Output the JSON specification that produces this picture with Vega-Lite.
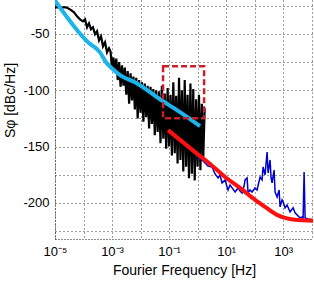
{
  "$schema": "https://vega.github.io/schema/vega-lite/v6.json",
  "width": 258,
  "height": 239,
  "autosize": {"type": "none"},
  "padding": {"left": 55, "top": 0, "right": 1, "bottom": 43},
  "background": "white",
  "config": {
    "view": {"stroke": null},
    "font": "Liberation Sans",
    "axis": {
      "labelFont": "Liberation Sans",
      "titleFont": "Liberation Sans",
      "labelColor": "#000",
      "titleColor": "#000",
      "titleFontWeight": "normal",
      "ticks": false,
      "grid": true,
      "gridColor": "#1a1a1a",
      "gridDash": [1, 3],
      "gridOpacity": 0.85,
      "domain": true,
      "domainColor": "#1a1a1a",
      "domainDash": [1, 2]
    }
  },
  "datasets": {
    "black": [
      {"f": 1e-5, "db": -26.5}, {"f": 1.76e-5, "db": -26.5}, {"f": 2.43e-5, "db": -26.5}, {"f": 3.36e-5, "db": -28.3},
      {"f": 4.65e-5, "db": -31}, {"f": 5.92e-5, "db": -34.5}, {"f": 7.53e-5, "db": -37.2}, {"f": 9.6e-5, "db": -38.9},
      {"f": 1.13e-4, "db": -37.2}, {"f": 1.33e-4, "db": -44.2}, {"f": 1.56e-4, "db": -40.7}, {"f": 1.83e-4, "db": -46},
      {"f": 2.15e-4, "db": -44.2}, {"f": 2.54e-4, "db": -50.4}, {"f": 2.98e-4, "db": -47.8}, {"f": 3.5e-4, "db": -55.8},
      {"f": 4.11e-4, "db": -52.2}, {"f": 4.83e-4, "db": -61.1}, {"f": 5.68e-4, "db": -57.5}, {"f": 6.68e-4, "db": -66.4},
      {"f": 7.85e-4, "db": -62.8},
      {"f": 8.913e-4, "db": -66}, {"f": 1e-3, "db": -82}, {"f": 1.122e-3, "db": -71}, {"f": 1.259e-3, "db": -84},
      {"f": 1.413e-3, "db": -72}, {"f": 1.585e-3, "db": -91}, {"f": 1.778e-3, "db": -75}, {"f": 1.995e-3, "db": -97},
      {"f": 2.239e-3, "db": -78}, {"f": 2.512e-3, "db": -96}, {"f": 2.818e-3, "db": -80}, {"f": 3.162e-3, "db": -104},
      {"f": 3.548e-3, "db": -83}, {"f": 3.981e-3, "db": -112}, {"f": 4.467e-3, "db": -85}, {"f": 5.012e-3, "db": -109},
      {"f": 5.623e-3, "db": -88}, {"f": 6.31e-3, "db": -117}, {"f": 7.079e-3, "db": -89}, {"f": 7.943e-3, "db": -125},
      {"f": 8.913e-3, "db": -91}, {"f": 0.01, "db": -120}, {"f": 0.01122, "db": -93}, {"f": 0.01259, "db": -128},
      {"f": 0.01413, "db": -94}, {"f": 0.01585, "db": -124}, {"f": 0.01778, "db": -96}, {"f": 0.01995, "db": -134},
      {"f": 0.02239, "db": -97}, {"f": 0.02512, "db": -130}, {"f": 0.02818, "db": -99}, {"f": 0.03162, "db": -140},
      {"f": 0.03548, "db": -100}, {"f": 0.03981, "db": -137}, {"f": 0.04467, "db": -101}, {"f": 0.05012, "db": -147},
      {"f": 0.05623, "db": -96}, {"f": 0.0631, "db": -143}, {"f": 0.07079, "db": -103}, {"f": 0.07943, "db": -152},
      {"f": 0.08913, "db": -98}, {"f": 0.1, "db": -150}, {"f": 0.1122, "db": -104}, {"f": 0.1259, "db": -158},
      {"f": 0.1413, "db": -93}, {"f": 0.1585, "db": -156}, {"f": 0.1778, "db": -105}, {"f": 0.1995, "db": -165},
      {"f": 0.2239, "db": -89}, {"f": 0.2512, "db": -162}, {"f": 0.2818, "db": -100}, {"f": 0.3162, "db": -172},
      {"f": 0.3548, "db": -91}, {"f": 0.3981, "db": -168}, {"f": 0.4467, "db": -104}, {"f": 0.5012, "db": -178},
      {"f": 0.5623, "db": -94}, {"f": 0.631, "db": -174}, {"f": 0.7079, "db": -99}, {"f": 0.7943, "db": -180},
      {"f": 0.8913, "db": -108}, {"f": 1.0, "db": -168}, {"f": 1.122, "db": -104}, {"f": 1.259, "db": -171},
      {"f": 1.413, "db": -112}, {"f": 1.585, "db": -160}, {"f": 1.778, "db": -116}
    ],
    "blue": [
      {"f": 0.817, "db": -155.8}, {"f": 1.04, "db": -159.3}, {"f": 1.44, "db": -161.9}, {"f": 1.83, "db": -164.6},
      {"f": 2.33, "db": -167.3}, {"f": 3.23, "db": -168.1}, {"f": 4.11, "db": -174.3}, {"f": 5.24, "db": -177.9},
      {"f": 6.15, "db": -175.2}, {"f": 7.24, "db": -182.3}, {"f": 9.23, "db": -179.6}, {"f": 11.7, "db": -188.5},
      {"f": 13.8, "db": -184.1}, {"f": 16.3, "db": -186.7}, {"f": 20.7, "db": -190.3}, {"f": 26.4, "db": -186.7},
      {"f": 31.0, "db": -189.4}, {"f": 36.4, "db": -191.2}, {"f": 42.8, "db": -185.0}, {"f": 46.4, "db": -179.6},
      {"f": 54.6, "db": -177.9}, {"f": 59.2, "db": -191.2}, {"f": 69.5, "db": -188.5}, {"f": 81.7, "db": -190.3},
      {"f": 104, "db": -186.7}, {"f": 122, "db": -188.5}, {"f": 156, "db": -177.0}, {"f": 183, "db": -179.6},
      {"f": 199, "db": -168.1}, {"f": 233, "db": -175.2}, {"f": 275, "db": -154.9}, {"f": 298, "db": -173.5},
      {"f": 350, "db": -161.9}, {"f": 379, "db": -177.9}, {"f": 411, "db": -182.3}, {"f": 483, "db": -170.8},
      {"f": 524, "db": -190.3}, {"f": 615, "db": -194.7}, {"f": 724, "db": -188.5}, {"f": 785, "db": -203.5},
      {"f": 923, "db": -197.3}, {"f": 1000, "db": -199.1}, {"f": 1175, "db": -204.4}, {"f": 1380, "db": -201.8},
      {"f": 1762, "db": -208.0}, {"f": 2244, "db": -204.4}, {"f": 2636, "db": -208.8}, {"f": 3097, "db": -210.6},
      {"f": 3947, "db": -213.3}, {"f": 4642, "db": -212.4}, {"f": 5035, "db": -213.3}, {"f": 5460, "db": -172.6},
      {"f": 5916, "db": -213.3}, {"f": 7530, "db": -214.2}, {"f": 11220, "db": -215.0}
    ],
    "cyan": [
      {"f": 1e-5, "db": -20.4}, {"f": 1.44e-4, "db": -57.5}, {"f": 3.79e-4, "db": -66.4}, {"f": 6.15e-4, "db": -75.2},
      {"f": 1.08e-3, "db": -81.4}, {"f": 1.91e-3, "db": -86.7}, {"f": 6.41e-3, "db": -92.9}, {"f": 0.0483, "db": -108.0},
      {"f": 0.243, "db": -119.5}, {"f": 1.22, "db": -131.9}
    ],
    "red": [
      {"f": 0.0923, "db": -135.4}, {"f": 0.817, "db": -154.9}, {"f": 2.75, "db": -165.5}, {"f": 9.23, "db": -177.0},
      {"f": 31.0, "db": -186.7}, {"f": 104, "db": -197.3}, {"f": 233, "db": -203.5}, {"f": 615, "db": -210.6},
      {"f": 1175, "db": -213.3}, {"f": 2630, "db": -215.0}, {"f": 11220, "db": -215.9}
    ],
    "box": [{"f": 0.0617, "f2": 1.70, "db": -78.8, "db2": -124.8}]
  },
  "encoding": {
    "x": {
      "field": "f", "type": "quantitative",
      "scale": {"type": "log", "domain": [1e-5, 11200], "nice": false},
      "axis": {
        "values": [1e-5, 1e-4, 1e-3, 1e-2, 1e-1, 1, 10, 100, 1000, 10000],
        "labelExpr": "round(log(datum.value)/LN10) == -5 ? '10⁻⁵' : round(log(datum.value)/LN10) == -3 ? '10⁻³' : round(log(datum.value)/LN10) == -1 ? '10⁻¹' : round(log(datum.value)/LN10) == 1 ? '10¹' : round(log(datum.value)/LN10) == 3 ? '10³' : ''",
        "labelFontSize": 13,
        "labelPadding": 6,
        "labelFlush": false,
        "labelOverlap": false,
        "title": "Fourier Frequency [Hz]",
        "titleFontSize": 14,
        "titlePadding": 5
      }
    },
    "y": {
      "field": "db", "type": "quantitative",
      "scale": {"domain": [-232, -20], "nice": false, "zero": false},
      "axis": {
        "values": [-225, -200, -175, -150, -125, -100, -75, -50, -25],
        "labelExpr": "round(datum.value) == -50 ? '-50' : round(datum.value) == -100 ? '-100' : round(datum.value) == -150 ? '-150' : round(datum.value) == -200 ? '-200' : ''",
        "labels": true,
        "labelOpacity": 1,
        "labelFontSize": 13,
        "labelPadding": 6,
        "labelOverlap": false,
        "labelFlush": false,
        "title": "Sφ [dBc/Hz]",
        "titleFontSize": 14,
        "titleAngle": -90,
        "titleAlign": "center",
        "titleBaseline": "middle",
        "titleX": -45,
        "titleY": 100
      }
    }
  },
  "layer": [
    {
      "data": {"name": "black"},
      "mark": {"type": "line", "color": "#000000", "strokeWidth": 2.2, "clip": true}
    },
    {
      "data": {"name": "blue"},
      "mark": {"type": "line", "color": "#0000cc", "strokeWidth": 1.5, "clip": true}
    },
    {
      "data": {"name": "cyan"},
      "mark": {"type": "line", "color": "#1cb4ea", "strokeWidth": 4, "interpolate": "monotone", "clip": true}
    },
    {
      "data": {"name": "red"},
      "mark": {"type": "line", "color": "#ff1010", "strokeWidth": 4, "interpolate": "monotone", "clip": true}
    },
    {
      "data": {"name": "box"},
      "mark": {"type": "rect", "fill": null, "fillOpacity": 0, "stroke": "#c8202a", "strokeWidth": 2.5, "strokeDash": [6, 3]},
      "encoding": {
        "x2": {"field": "f2"},
        "y2": {"field": "db2"}
      }
    }
  ]
}
